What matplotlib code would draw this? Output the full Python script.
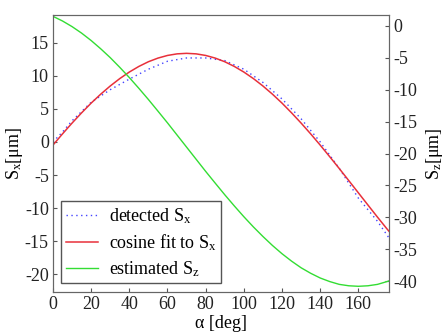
import matplotlib
matplotlib.use("Agg")
import matplotlib.pyplot as plt

# values
alpha_det = [0, 5, 10, 20, 30, 40, 50, 60, 70, 80, 90, 100, 110, 120, 130, 140, 150, 160, 170, 176]
sx_detected = [0.0, 1.5, 3.2, 6.0, 7.9, 9.5, 11.0, 12.2, 12.7, 12.7, 12.3, 11.0, 9.0, 6.5, 3.5,
               0.0, -4.0, -8.5, -12.0, -14.5]

alpha = [0, 5, 10, 15, 20, 25, 30, 35, 40, 45, 50, 55, 60, 65, 70, 75, 80, 85, 90,
         95, 100, 105, 110, 115, 120, 125, 130, 135, 140, 145, 150, 155, 160, 165, 170, 175, 176]
sx_fit = [-0.48, 1.22, 2.85, 4.40, 5.87, 7.22, 8.46, 9.58, 10.57, 11.42, 12.13, 12.68, 13.08,
          13.32, 13.40, 13.32, 13.08, 12.68, 12.13, 11.42, 10.57, 9.58, 8.46, 7.22, 5.87, 4.40,
          2.85, 1.22, -0.48, -2.24, -4.03, -5.86, -7.70, -9.54, -11.37, -13.16, -13.50]
sz_est = [1.49, 0.76, -0.12, -1.14, -2.30, -3.59, -4.98, -6.50, -8.10, -9.79, -11.54, -13.36,
          -15.20, -17.10, -19.00, -20.90, -22.80, -24.64, -26.46, -28.21, -29.90, -31.50,
          -33.00, -34.41, -35.70, -36.86, -37.90, -38.76, -39.50, -40.06, -40.50, -40.72,
          -40.80, -40.72, -40.50, -40.06, -39.95]

left_ticks = [-20, -15, -10, -5, 0, 5, 10, 15]
right_ticks = [-40, -35, -30, -25, -20, -15, -10, -5, 0]
x_ticks = [0, 20, 40, 60, 80, 100, 120, 140, 160]

plt.rcParams["font.family"] = ["Liberation Serif", "DejaVu Serif"]
plt.rcParams["mathtext.fontset"] = "custom"
plt.rcParams["mathtext.rm"] = "Liberation Serif"
plt.rcParams["mathtext.it"] = "Liberation Serif:italic"
plt.rcParams["axes.unicode_minus"] = False

fig = plt.figure(figsize=(4.45, 3.33), dpi=100)
ax = fig.add_axes([0.119, 0.123, 0.755, 0.832])
ax2 = ax.twinx()

l1, = ax.plot(alpha_det, sx_detected, color="#4444ff", lw=1.0, ls=(0, (1, 2.5)))
l2, = ax.plot(alpha, sx_fit, color="#e8303a", lw=1.1)
l3, = ax2.plot(alpha, sz_est, color="#33dd33", lw=1.0)

ax.set_xlim(0, 176)
ax.set_ylim(-22.7, 19.2)
ax2.set_ylim(-41.7, 1.7)

ax.set_xticks(x_ticks)
ax.set_yticks(left_ticks)
ax2.set_yticks(right_ticks)

for a in (ax, ax2):
    a.tick_params(direction="in", length=3, labelsize=13, colors="#555555", labelcolor="#222222", pad=3)
    for s in a.spines.values():
        s.set_color("#666666")

ax.set_xlabel(r"α [deg]", fontsize=13, labelpad=1)
ax.set_ylabel(r"S$_\mathrm{x}$[μm]", fontsize=13)
ax2.set_ylabel(r"S$_\mathrm{z}$[μm]", fontsize=13, rotation=90)
ax.yaxis.set_label_coords(-0.082, 0.5)
ax2.yaxis.set_label_coords(1.103, 0.5)

leg = ax.legend([l1, l2, l3],
                [r"detected S$_\mathrm{x}$", r"cosine fit to S$_\mathrm{x}$", r"estimated S$_\mathrm{z}$"],
                loc="lower left", bbox_to_anchor=(0.024, 0.032), fontsize=13, fancybox=False,
                framealpha=1, edgecolor="#555555", handlelength=1.8, handletextpad=0.6,
                borderpad=0.25, labelspacing=0.35, borderaxespad=0)
leg.get_frame().set_linewidth(1.0)

fig.savefig("out.png", dpi=100)
